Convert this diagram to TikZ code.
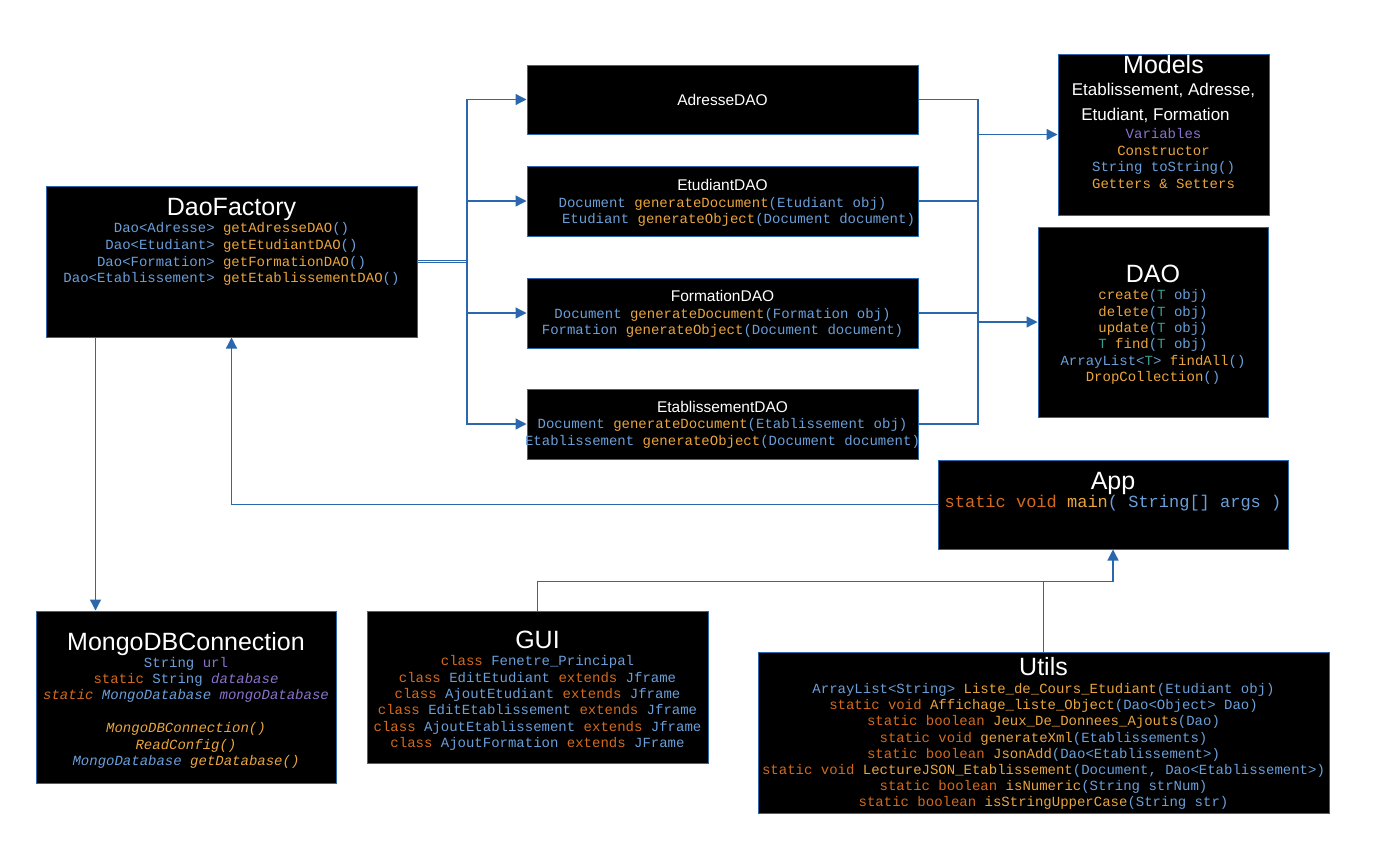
\documentclass[tikz,border=0pt]{standalone}
\usepackage{fontspec}
\setmainfont{Liberation Sans}
\setmonofont{Liberation Mono}
\usetikzlibrary{arrows.meta}
\usetikzlibrary{positioning}

\definecolor{linkblue}{HTML}{2B67AD}
\definecolor{typeblue}{HTML}{6A9FDA}
\definecolor{method}{HTML}{EBA53F}
\definecolor{keyword}{HTML}{D46A1E}
\definecolor{field}{HTML}{8A72CC}
\definecolor{generic}{HTML}{3A9D8E}

\newcommand{\kwd}[1]{\textcolor{keyword}{#1}}
\newcommand{\mth}[1]{\textcolor{method}{#1}}
\newcommand{\fld}[1]{\textcolor{field}{#1}}
\newcommand{\gen}[1]{\textcolor{generic}{#1}}
\newcommand{\ttl}[1]{{\rmfamily\color{white}\fontsize{25}{30}\selectfont #1}}
\newcommand{\sttl}[1]{{\rmfamily\color{white}\fontsize{15.5}{18}\selectfont #1}}
\newcommand{\mttl}[1]{{\rmfamily\color{white}\fontsize{17}{20}\selectfont #1}}

\tikzset{
  box/.style={draw=linkblue, fill=black, line width=1pt, inner sep=0pt},
  code/.style={align=center, inner sep=0pt, text=typeblue,
    font={\ttfamily\fontsize{14}{16.4}\selectfont\lineskiplimit-50pt}},
  link/.style={draw=linkblue, line width=1.3pt},
}

\begin{document}
\begin{tikzpicture}[x=1pt, y=-1pt, >={Triangle[length=11pt,width=11pt]}]
    \fill[white] (0,0) rectangle (1376,865);
    \useasboundingbox (0,0) rectangle (1376,865);

    % boxes
    \node[box, minimum width=371, minimum height=151] (factory) at (231.5,261.5) {};
    \node[box, minimum width=391, minimum height=69] (adresse) at (722.5,99.5) {};
    \node[box, minimum width=391, minimum height=70] (etudiant) at (722.5,201) {};
    \node[box, minimum width=391, minimum height=70] (formation) at (722.5,313) {};
    \node[box, minimum width=391, minimum height=70] (etablissement) at (722.5,424) {};
    \node[box, minimum width=211, minimum height=161] (models) at (1163.5,134.5) {};
    \node[box, minimum width=230, minimum height=190] (dao) at (1153,322) {};
    \node[box, minimum width=350, minimum height=89] (app) at (1113,504.5) {};
    \node[box, minimum width=300, minimum height=172] (mongodb) at (186,697) {};
    \node[box, minimum width=341, minimum height=152] (gui) at (537.5,687) {};
    \node[box, minimum width=571, minimum height=161] (utils) at (1043.5,732.5) {};

    % contents
    \node[code, anchor=north, font={\ttfamily\fontsize{14}{16.7}\selectfont\lineskiplimit-50pt}] (factorytext) at (231.5,198.5) {\ttl{DaoFactory}\\
      Dao<Adresse> \mth{getAdresseDAO}()\\
      Dao<Etudiant> \mth{getEtudiantDAO}()\\
      Dao<Formation> \mth{getFormationDAO}()\\
      Dao<Etablissement> \mth{getEtablissementDAO}()};
    \node[code] (adressetext) at (722.5,100) {\sttl{AdresseDAO}};
    \node[code, anchor=north, font={\ttfamily\fontsize{14}{16.6}\selectfont}] (etudianttext) at (722.5,179.3) {\sttl{EtudiantDAO}\\
      Document \mth{generateDocument}(Etudiant obj)\\
      \hspace*{32pt}Etudiant \mth{generateObject}(Document document)};
    \node[code, anchor=north, font={\ttfamily\fontsize{14}{16.6}\selectfont}] (formationtext) at (722.5,290) {\sttl{FormationDAO}\\
      Document \mth{generateDocument}(Formation obj)\\
      Formation \mth{generateObject}(Document document)};
    \node[code, anchor=north, font={\ttfamily\fontsize{14}{16.6}\selectfont}] (etablissementtext) at (722.5,400.7) {\sttl{EtablissementDAO}\\
      Document \mth{generateDocument}(Etablissement obj)\\
      Etablissement \mth{generateObject}(Document document)};
    \node[code, anchor=north] (modelstext) at (1163.5,55) {\ttl{Models}\\[5.9pt]
      \mttl{Etablissement, Adresse,}\\[8.6pt]
      \mttl{Etudiant, Formation}\rule{16pt}{0pt}\\[1.9pt]
      \fld{Variables}\\
      \mth{Constructor}\\
      String toString()\\
      \mth{Getters \& Setters}};
    \node[code, anchor=north] (daotext) at (1153,265) {\ttl{DAO}\\[0.6pt]
      \mth{create}(\gen{T} obj)\\
      \mth{delete}(\gen{T} obj)\\
      \mth{update}(\gen{T} obj)\\
      \gen{T} \mth{find}(\gen{T} obj)\\
      ArrayList<\gen{T}> \mth{findAll}()\\
      \mth{DropCollection}()};
    \node[code, anchor=north, font={\ttfamily\fontsize{17}{18}\selectfont\lineskiplimit-50pt}] (apptext) at (1113,472) {\ttl{App}\\
      \kwd{static void} \mth{main}( String[] args )};
    \node[code, anchor=north] (mongotext) at (186,632) {\ttl{MongoDBConnection}\\[0.3pt]
      String \fld{url}\\
      \kwd{static} String \fld{\itshape database}\\
      \itshape\kwd{static} MongoDatabase \fld{mongoDatabase}\\
      \\
      \itshape\mth{MongoDBConnection()}\\
      \itshape\mth{ReadConfig()}\\
      \itshape MongoDatabase \mth{getDatabase()}};
    \node[code, anchor=north] (guitext) at (537.5,631) {\ttl{GUI}\\[0.6pt]
      \kwd{class} Fenetre\_Principal\\
      \kwd{class} EditEtudiant \kwd{extends} Jframe\\
      \kwd{class} AjoutEtudiant \kwd{extends} Jframe\\
      \kwd{class} EditEtablissement \kwd{extends} Jframe\\
      \kwd{class} AjoutEtablissement \kwd{extends} Jframe\\
      \kwd{class} AjoutFormation \kwd{extends} JFrame};
    \node[code, anchor=north, font={\ttfamily\fontsize{14}{16.2}\selectfont\lineskiplimit-50pt}] (utilstext) at (1043.5,657) {\ttl{Utils}\\[1.9pt]
      ArrayList<String> \mth{Liste\_de\_Cours\_Etudiant}(Etudiant obj)\\
      \kwd{static void} \mth{Affichage\_liste\_Object}(Dao<Object> Dao)\\
      \kwd{static boolean} \mth{Jeux\_De\_Donnees\_Ajouts}(Dao)\\
      \kwd{static void} \mth{generateXml}(Etablissements)\\
      \kwd{static boolean} \mth{JsonAdd}(Dao<Etablissement>)\\
      \kwd{static void} \mth{LectureJSON\_Etablissement}(Document, Dao<Etablissement>)\\
      \kwd{static boolean} \mth{isNumeric}(String strNum)\\
      \kwd{static boolean} \mth{isStringUpperCase}(String str)};

    % connectors
    \coordinate (split) at (467,261.5);
    \coordinate (merge) at (978,134.5);
    \coordinate (join) at ([yshift=-32pt]app.south);

    \draw[link, line width=1pt, double=white, double distance=1.4pt] (factory) -- (split);
    \foreach \n in {adresse, etudiant, formation, etablissement}
      \draw[link, ->] (split) |- (\n);
    \foreach \n in {adresse, etudiant, formation, etablissement}
      \draw[link] (\n.east) -| (merge);
    \draw[link, ->] (merge) -- (models);
    \draw[link, ->] (merge |- dao) -- (dao);

    \draw[link, ->] (app.west) -| (factory.south);
    \draw[link, ->] ([xshift=50pt]factory.south west) -- ([xshift=60pt]mongodb.north west);

    \draw[link] (gui) |- (join);
    \draw[link] (utils) |- (join);
    \draw[link, ->] (join) -- (app);
\end{tikzpicture}
\end{document}
